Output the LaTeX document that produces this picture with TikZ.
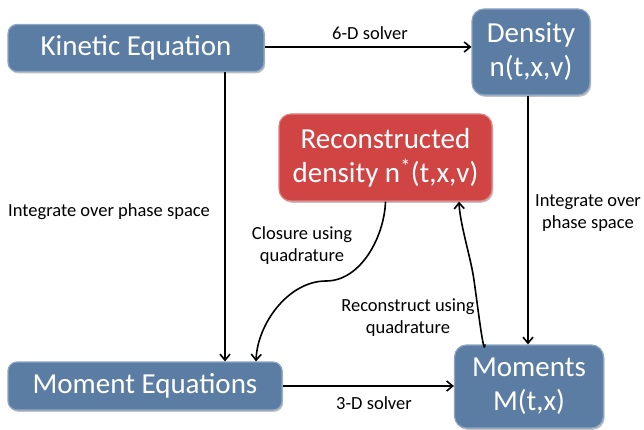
\documentclass[tikz,border=0pt]{standalone}
\usepackage{fontspec}
\setmainfont{Carlito}
\usetikzlibrary{arrows.meta,shadows}
\definecolor{boxblue}{RGB}{91,125,164}
\definecolor{boxblueedge}{RGB}{140,165,196}
\definecolor{boxred}{RGB}{208,68,68}
\definecolor{boxrededge}{RGB}{225,130,130}
\tikzset{
  boxbase/.style={rectangle, rounded corners=9pt, text=white, align=center,
    font=\fontsize{29}{34}\selectfont, line width=1.2pt, inner sep=0pt,
    drop shadow={shadow xshift=1.2pt, shadow yshift=-1.8pt, opacity=0.35, fill=black!70}},
  bluebox/.style={boxbase, fill=boxblue, draw=boxblueedge},
  redbox/.style={boxbase, fill=boxred, draw=boxrededge},
  lbl/.style={font=\fontsize{18.5}{22}\selectfont, align=center, text=black, inner sep=0pt},
  conn/.style={line width=1.6pt, -{Straight Barb[length=6pt,width=10pt,line width=1.6pt]}}
}
\begin{document}
\begin{tikzpicture}[x=1pt,y=-1pt]
\useasboundingbox (0,0) rectangle (644,430);
\node[bluebox, minimum width=256pt, minimum height=47pt] (kin) at (136,48) {Kinetic Equation};
\node[bluebox, minimum width=118pt, minimum height=86pt, rounded corners=12pt] (den) at (531,52) {Density\\n(t,x,v)};
\node[redbox, minimum width=213pt, minimum height=87pt, rounded corners=12pt] (rec) at (385.5,157.5) {Reconstructed\\density n\textsuperscript{*}(t,x,v)};
\node[bluebox, minimum width=274pt, minimum height=48pt] (meq) at (145,386) {Moment Equations};
\node[bluebox, minimum width=149pt, minimum height=83pt, rounded corners=12pt] (mom) at (529,386.5) {Moments\\M(t,x)};

\coordinate (c1) at (225,0);
\coordinate (c2) at (528,0);
\coordinate (c3) at (256,0);
\coordinate (c4) at (485,0);
\coordinate (c5) at (459,0);
\coordinate (c6) at (0,47);
\coordinate (m1) at (326,281);
\coordinate (m2) at (473,274);

\draw[conn] (kin.east |- c6) -- (den.west |- c6);
\draw[conn] (kin.south -| c1) -- (meq.north -| c1);
\draw[conn] (den.south -| c2) -- (mom.north -| c2);
\draw[conn] (meq.east) -- (mom.west |- meq.east);
\draw[conn] (rec.south) to[out=-92,in=0,looseness=0.9] (m1) to[out=180,in=88,looseness=0.9] (meq.north -| c3);
\draw[conn] (mom.north -| c4) to[out=-94,in=-80,looseness=0.6] (m2) to[out=100,in=-88,looseness=0.7] (rec.south -| c5);

\node[lbl] (l1) at (370,33) {6-D solver};
\node[lbl, anchor=west] (l2) at (8,212) {Integrate over phase space};
\node[lbl] (l3) at (588,213) {Integrate over\\phase space};
\node[lbl] (l4) at (302,246) {Closure using\\quadrature};
\node[lbl] (l5) at (408,318) {Reconstruct using\\quadrature};
\node[lbl] (l6) at (374,403) {3-D solver};
\end{tikzpicture}
\end{document}
